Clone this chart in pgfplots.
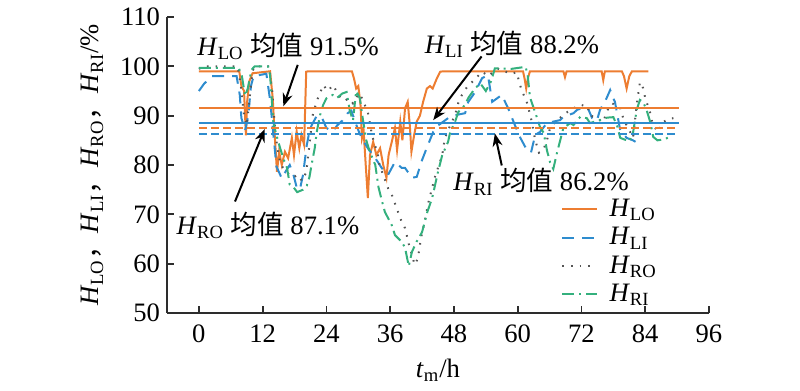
\documentclass[border=0pt]{standalone}
\usepackage{fontspec}
\setmainfont{Liberation Serif}
\newfontfamily\cjkfont{Noto Sans CJK SC}
\newcommand{\cjk}[1]{{\cjkfont #1}}
\usepackage{pgfplots}
\pgfplotsset{compat=1.18}
\usetikzlibrary{arrows.meta}
\definecolor{corange}{RGB}{237,125,49}
\definecolor{cblue}{RGB}{46,140,206}
\definecolor{cgreen}{RGB}{52,176,125}
\definecolor{cgrey}{RGB}{85,85,85}
\definecolor{caxis}{RGB}{45,45,45}
\newcommand{\HH}[1]{\textit{H}\textsubscript{#1}}
\newcommand{\fs}{\fontsize{13.3}{15}\selectfont}
\begin{document}
\begin{tikzpicture}
\path (-83.5pt,-39pt) rectangle (316.5pt,156.5pt);
\begin{axis}[
  at={(0,0)}, anchor=south west,
  scale only axis, width=271pt, height=148pt,
  xmin=-6, xmax=96, ymin=50, ymax=110,
  xtick={0,12,...,96}, ytick={50,60,...,110},
  axis lines=left, axis line style={-, line width=1pt, caxis},
  tick align=inside, major tick length=3.5pt,
  tick style={caxis, line width=0.9pt},
  /pgf/number format/assume math mode=true,
  tick label style={font=\fs},
  xticklabel style={yshift=-2.5pt},
  label style={font=\fs},
  xlabel={\textit{t}\textsubscript{m}/h},
  xlabel style={at={(axis description cs:0.5,-0.193)}, anchor=center},
  ylabel={\HH{LO}\cjk{，}\HH{LI}\cjk{，}\HH{RO}\cjk{，}\HH{RI}/\%},
  ylabel style={at={(axis description cs:-0.138,0.5)}, anchor=center},
  clip=false,
  legend style={at={(0.727,0.40)}, anchor=north west, draw=none, fill=none,
    font=\fs, row sep=0pt, inner sep=0pt},
  legend cell align=left,
]
% H_LO
\addplot[corange, line width=1pt] coordinates {
(0,99) (7.6,99) (8.0,96) (8.5,95) (8.85,86) (9.1,93) (9.5,97) (10.1,98.6) (13.4,99)
(13.9,93.5) (14.3,85.5) (14.7,78.6) (15.1,82.7) (15.6,80) (16.2,82.7) (16.8,81.4)
(17.5,85.5) (17.9,82) (18.4,86.8) (18.9,83.4) (19.3,86.1) (19.8,84.1) (20.2,98.9)
(20.6,99) (28.8,99) (29.2,97.5) (29.6,95.5) (30.0,96) (30.4,92.5) (30.7,85.5)
(31.0,87) (31.4,80) (31.8,73.3) (32.2,82) (32.8,84.7) (33.4,82) (34.1,83.4)
(34.7,80) (35.3,77.4) (35.7,82) (36.3,84.7) (36.9,87.5) (37.3,83) (37.9,88.8)
(38.3,85) (38.8,91.5) (39.3,92.8) (39.7,88) (40.0,82.7) (40.5,86) (41.0,88.8)
(41.6,90) (42.2,92.8) (42.9,95.5) (43.5,96) (44.0,95.5) (44.8,97.6) (45.4,98.9)
(46.0,99) (61.0,99) (61.3,97.5) (61.6,95.5) (61.9,97.5) (62.3,99) (68.6,99)
(68.9,97.8) (69.2,99) (75.8,99) (76.1,97.2) (76.4,99) (79.6,99) (80.0,98)
(80.5,95.5) (81.0,98) (81.5,99) (84.6,99)};
\addlegendentry{\hspace*{4pt}\HH{LO}}
% H_LI
\addplot[cblue, line width=1pt, dash pattern=on 6pt off 4pt] coordinates {
(0,95) (1,96.5) (2.5,98) (7.1,98) (7.7,94.2) (8.0,89.5) (8.7,87) (9.3,90) (9.8,96)
(10.3,98) (12.7,98.5) (13.4,93.2) (14.0,86.4) (14.6,79.7) (15.6,77.3) (16.5,79)
(17.1,80) (17.8,78) (18.4,75.5) (19.0,75) (19.6,78) (20.3,84) (20.8,86.8) (21.2,88)
(22.2,90) (23.2,89.5) (24.0,87.5) (25.2,86.8) (26.0,88) (27.0,89) (28.0,90.5)
(28.7,91) (29.5,88.5) (30.2,86.5) (30.9,85) (31.8,83.4) (33.2,81.4) (34.4,79.4)
(35.6,78) (36.9,80.6) (38.2,79.4) (38.8,79.4) (40.1,77.4) (41.0,77.6) (42.0,81)
(42.9,83.5) (44.1,86.7) (45.0,88) (46.9,89.5) (48.2,90.1) (50.1,90.5) (50.7,92.8)
(52.0,94.8) (53.3,97.6) (54.4,98.2) (55.2,92.8) (57.0,94.2) (58.2,91.5) (59.5,88)
(60.5,85.5) (61.5,83.5) (62.5,82.5) (63.3,86.1) (64.2,86.7) (65.5,88.5) (66.7,88.8)
(68.0,89.1) (68.6,89.8) (70.5,90.5) (71.2,91.2) (72.1,91.5) (73.1,91.8) (74.0,89.5)
(74.9,89) (75.5,91.2) (76.5,93) (77.4,95.2) (78.0,93.5) (78.3,92.8) (79.3,87)
(80.5,85.5) (81.7,85) (82.5,84.5) (83.1,83.7)};
\addlegendentry{\hspace*{4pt}\HH{LI}}
% H_RO
\addplot[cgrey, line width=1pt, dash pattern=on 0.8pt off 3.5pt] coordinates {
(0,99.5) (1,100) (7.3,100) (7.9,96) (8.5,90) (9.0,88) (9.5,93) (10.1,99) (10.5,100)
(13.2,100) (13.8,95) (14.3,88) (14.8,83) (15.4,80) (16.2,79) (17.0,78) (17.8,77.5)
(18.6,78) (19.4,76.8) (20.2,78.5) (20.8,84) (21.4,90) (22.2,93) (23.4,96.2) (24.3,95)
(25.2,96.2) (26.0,94.8) (26.6,93.8) (27.4,93) (28.2,93.5) (29.0,92.5) (29.7,93.8)
(30.3,94.5) (30.7,93.5) (31.8,90.7) (32.6,86) (33.7,82) (34.0,80) (35.6,75.3)
(36.3,74) (37.3,71) (38.2,68.4) (38.8,67.2) (39.5,64) (40.1,61.8) (40.6,59.8)
(41.2,61) (41.8,65.2) (42.5,68.5) (43.1,72) (44.4,77.5) (45.8,82) (46.3,85.5)
(47.3,88) (48.2,90.1) (48.8,92.5) (49.5,94.2) (50.7,96.2) (51.4,96.8) (52.5,98)
(53.3,98.9) (54.5,98) (55.5,99) (56.3,99.5) (57.5,99) (58.9,98.5) (59.8,98.8)
(60.5,96) (61.2,94) (61.8,92.5) (62.6,89) (63.3,85) (64.0,82.5) (64.8,83) (65.5,85)
(66.1,87.5) (67.3,89) (68.6,90.1) (69.3,90.7) (70.5,91.5) (71.8,92.2) (72.6,92)
(73.1,92) (73.6,90.1) (74.8,89.5) (76.1,88.7) (76.8,91) (77.8,92.5) (79.3,91.5)
(80.0,89) (80.8,87.5) (81.7,85.5) (82.5,93) (83.0,96.8) (83.6,95.6) (84.0,93.6)
(84.9,90.7) (85.3,88.7) (86.3,86.7) (87.4,88.7) (88.3,89.3) (89.3,89.5)};
\addlegendentry{\hspace*{4pt}\HH{RO}}
% H_RI
\addplot[cgreen, line width=1pt, dash pattern=on 6pt off 2.5pt on 1pt off 2.5pt] coordinates {
(0,99.7) (7.5,99.7) (8.1,98) (8.7,94) (9.2,95.5) (9.9,99.3) (10.5,100) (13.0,100)
(13.4,98.2) (14.0,88.8) (14.6,86) (15.3,83.4) (16.0,81) (16.6,79.4) (17.1,76)
(17.8,75.5) (18.5,74.5) (19.6,75) (20.3,75.8) (20.8,77.5) (21.2,80) (21.8,83.4)
(22.2,86.8) (22.8,90.1) (23.4,92.2) (24.0,93.5) (25.2,94.2) (26.0,93.6) (27.0,94.5)
(27.8,94.8) (28.4,91) (29.0,89) (29.6,95) (30.3,93.5) (30.9,89) (31.5,85) (32.2,82.6)
(33.2,80) (33.8,75.5) (34.5,72.5) (35.0,70.5) (36.3,67.8) (36.9,65.8) (38.2,64.4)
(38.8,63.2) (39.5,59.5) (40.1,62.4) (41.0,64.5) (42.0,66.4) (43.0,70.5) (43.9,73.3)
(45.0,78.6) (45.8,82) (46.9,84.7) (47.3,86.7) (48.2,88.7) (48.8,90.7) (50.1,92.2)
(50.7,93.6) (52.0,95.6) (53.0,96.5) (54.0,95) (55.0,97) (55.7,99.6) (58.9,99.5)
(61.5,99.9) (61.9,98) (62.3,93.8) (62.7,92.5) (63.5,90) (64.2,87.7) (64.9,86.5)
(65.5,83) (66.1,80.5) (66.7,79.2) (67.4,82.5) (68.0,85) (68.6,87.5) (69.9,88.5)
(70.5,88.1) (71.8,89.8) (73.0,89.5) (73.6,88.5) (75.5,89.1) (76.8,89.6) (78.0,89.7)
(78.7,88) (79.3,85.5) (81.0,84.8) (81.7,86.5) (82.4,91.2) (83.0,93.2) (83.6,92.8)
(84.3,91) (85.0,88.5) (85.5,85.7) (86.3,85) (87.5,85.2) (88.7,85.7)};
\addlegendentry{\hspace*{4pt}\HH{RI}}
% mean lines
\addplot[corange, line width=1pt, forget plot] coordinates {(0,91.5) (90.3,91.5)};
\addplot[cblue, line width=1pt, forget plot] coordinates {(0,88.6) (90.3,88.6)};
\addplot[corange, line width=1pt, dash pattern=on 4pt off 2pt, forget plot] coordinates {(0,87.5) (90.3,87.5)};
\addplot[cblue, line width=1pt, dash pattern=on 4pt off 2pt, forget plot] coordinates {(0,86.3) (90.3,86.3)};
% annotations
\node[font=\fs] at (axis cs:16.8,104.1) {\HH{LO} \cjk{均值} 91.5\%};
\node[font=\fs] at (axis cs:58.9,104.5) {\HH{LI} \cjk{均值} 88.2\%};
\node[font=\fs] at (axis cs:13.0,67.8) {\HH{RO} \cjk{均值} 87.1\%};
\node[font=\fs] at (axis cs:64.4,76.6) {\HH{RI} \cjk{均值} 86.2\%};
\draw[-{Stealth[length=6.5pt,width=5pt]}, line width=1pt] (axis cs:18.6,100.3) -- (axis cs:15.9,91.9);
\draw[-{Stealth[length=6.5pt,width=5pt]}, line width=1pt] (axis cs:53.2,102) -- (axis cs:44.1,89.1);
\draw[-{Stealth[length=6.5pt,width=5pt]}, line width=1pt] (axis cs:6.8,72.6) -- (axis cs:12.4,87.3);
\draw[-{Stealth[length=6.5pt,width=5pt]}, line width=1pt] (axis cs:57,79.9) -- (axis cs:55.7,86.4);
\end{axis}
\end{tikzpicture}
\end{document}
